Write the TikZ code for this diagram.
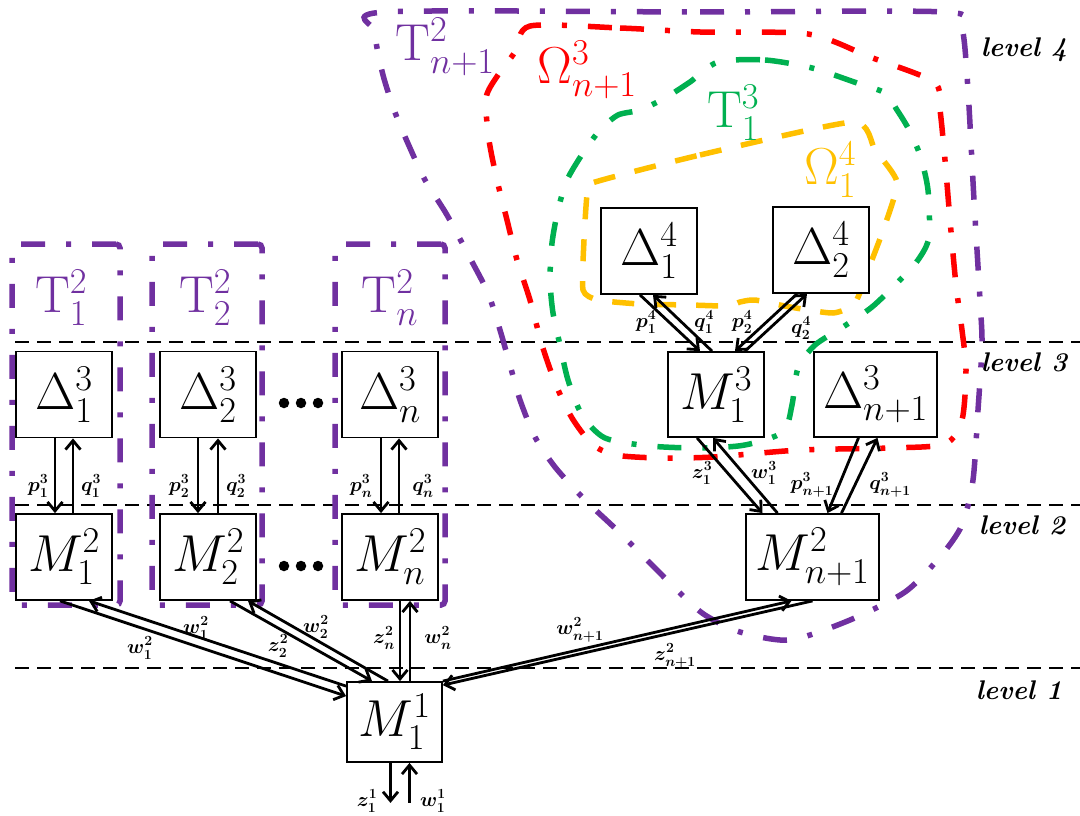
\RequirePackage{fix-cm}
\documentclass[tikz,border=0pt]{standalone}
\usetikzlibrary{arrows.meta,calc}
\definecolor{tpurple}{RGB}{112,48,160}
\definecolor{tred}{RGB}{255,0,0}
\definecolor{tgreen}{RGB}{0,176,80}
\definecolor{tyellow}{RGB}{255,192,0}
\newcommand\bigfnt{\fontsize{52}{58}\selectfont}
\newcommand\smallfnt{\fontsize{20}{22}\selectfont\boldmath}
\newcommand\levfnt{\fontsize{27}{30}\selectfont\bfseries\itshape}
\begin{document}
\begin{tikzpicture}[x=1pt,y=-1pt,
  box/.style={draw,line width=1.8pt,fill=white,minimum width=96pt,minimum height=86pt,inner sep=0pt,font=\bigfnt},
  arr/.style={line width=2.8pt,-{Straight Barb[length=9pt,width=15pt,line width=2.8pt]}},
  lab/.style={font=\smallfnt,inner sep=0pt},
  biglab/.style={font=\bigfnt,inner sep=0pt},
  levline/.style={dash pattern=on 14pt off 8pt,line width=2.6pt},
  levlab/.style={font=\levfnt,inner sep=0pt},
  dashdot/.style={line width=5.5pt,dash pattern=on 24pt off 21pt on 5pt off 21pt},
  ydash/.style={line width=5.5pt,dash pattern=on 22pt off 20pt},
  tbox/.style={draw=tpurple,dashdot,rounded corners=4pt},
  dotc/.style={circle,fill=black,inner sep=0pt,minimum size=10.5pt}
]
\useasboundingbox (0,0) rectangle (1080,816);

% level lines
\coordinate (l3w) at (15,342); \coordinate (l3e) at (1080,342);
\coordinate (l2w) at (15,505); \coordinate (l2e) at (1080,505);
\coordinate (l1w) at (15,668); \coordinate (l1e) at (1080,668);
\draw[levline] (l3w) -- (l3e);
\draw[levline] (l2w) -- (l2e);
\draw[levline] (l1w) -- (l1e);
\node[levlab] (lev4) at (1024,50) {level 4};
\node[levlab] (lev3) at (1024,362) {level 3};
\node[levlab] (lev2) at (1022,525) {level 2};
\node[levlab] (lev1) at (1019,690) {level 1};

% purple boxes T^2_i
\node[tbox,minimum width=108pt,minimum height=361pt] (T1box) at (66,424.5) {};
\node[tbox,minimum width=110pt,minimum height=361pt] (T2box) at (207,424.5) {};
\node[tbox,minimum width=110pt,minimum height=361pt] (Tnbox) at (390,424.5) {};

% big purple region
\draw[draw=tpurple,dashdot] plot[smooth cycle,tension=0.45] coordinates {
 (385,12) (700,12) (945,12) (962,28) (968,90) (974,200) (980,300) (982,345)
 (978,410) (973,480) (962,525) (940,557) (905,592) (850,620) (790,640)
 (740,632) (705,615) (680,593) (620,533) (585,500) (555,467) (535,437)
 (520,400) (510,365) (500,330) (488,293) (470,258) (447,215) (425,180)
 (410,148) (396,115) (383,75) (375,32)};
% red region
\draw[draw=tred,dashdot] plot[smooth cycle,tension=0.45] coordinates {
 (530,26) (620,28) (700,32) (808,34) (870,57) (934,82) (940,110) (945,160)
 (950,220) (956,285) (962,330) (966,370) (962,420) (945,444) (890,448)
 (800,450) (713,457) (660,458) (615,455) (592,444) (572,418) (556,385)
 (542,345) (530,300) (517,260) (507,220) (497,180) (489,140) (486,98)
 (498,75) (515,52)};
% green region
\draw[draw=tgreen,dashdot] plot[smooth cycle,tension=0.45] coordinates {
 (718,62) (765,60) (812,68) (857,83) (885,93) (897,110) (908,128) (920,155)
 (928,190) (929,237) (918,260) (897,283) (872,307) (843,327) (815,345)
 (798,368) (792,405) (783,432) (745,445) (700,448) (650,446) (605,438)
 (582,415) (568,380) (560,345) (553,313) (550,280) (552,243) (558,210)
 (567,180) (583,153) (600,130) (618,115) (640,110) (665,98) (690,82)};
% yellow region
\draw[draw=tyellow,ydash] plot[smooth cycle,tension=0.35] coordinates {
 (592,183) (700,155) (853,122) (875,150) (897,182) (885,225) (870,265)
 (855,303) (833,313) (790,307) (755,300) (740,302) (728,306) (690,305)
 (640,304) (598,300) (583,290) (584,240) (587,195)};

% region labels
\node[biglab,text=tpurple] (lT12) at (61,298) {$\mathrm{T}_1^2$};
\node[biglab,text=tpurple] (lT22) at (205,298) {$\mathrm{T}_2^2$};
\node[biglab,text=tpurple] (lTn2) at (390,298) {$\mathrm{T}_n^2$};
\node[biglab,text=tpurple] (lTnp) at (445,47) {$\mathrm{T}_{n+1}^2$};
\node[biglab,text=tred] (lOm3) at (587,70) {$\Omega_{n+1}^3$};
\node[biglab,text=tgreen] (lT13) at (733,113) {$\mathrm{T}_1^3$};
\node[biglab,text=tyellow] (lOm4) at (830,170) {$\Omega_1^4$};

% boxes
\node[box] (D13) at (64,394.5) {$\Delta_1^3$};
\node[box] (D23) at (208,394.5) {$\Delta_2^3$};
\node[box] (Dn3) at (390,394.5) {$\Delta_n^3$};
\node[box] (M12) at (64,557) {$M_1^2$};
\node[box] (M22) at (208,557) {$M_2^2$};
\node[box] (Mn2) at (390,557) {$M_n^2$};
\node[box,minimum width=95pt,minimum height=80pt] (M11) at (394.5,722) {$M_1^1$};
\node[box] (D14) at (649,251) {$\Delta_1^4$};
\node[box] (D24) at (821,250) {$\Delta_2^4$};
\node[box,minimum height=85pt] (M13) at (716,394.5) {$M_1^3$};
\node[box,minimum width=123pt,minimum height=85pt] (Dnp3) at (875.5,394.5) {$\Delta_{n+1}^3$};
\node[box,minimum width=133pt] (Mnp2) at (812.5,557) {$M_{n+1}^2$};

% ellipsis dots
\node[dotc] (e1) at (284,403) {}; \node[dotc] (e2) at (301,403) {}; \node[dotc] (e3) at (318,403) {};
\node[dotc] (f1) at (284,566) {}; \node[dotc] (f2) at (301,566) {}; \node[dotc] (f3) at (318,566) {};

% level 3 -> level 2 arrows (left)
\draw[arr] ([xshift=-9pt]D13.south) -- ([xshift=-9pt]M12.north);
\draw[arr] ([xshift=9pt]M12.north) -- ([xshift=9pt]D13.south);
\node[lab] (p13) at (38,486) {$p_1^3$};
\node[lab] (q13) at (91,486) {$q_1^3$};
\draw[arr] ([xshift=-10pt]D23.south) -- ([xshift=-10pt]M22.north);
\draw[arr] ([xshift=10pt]M22.north) -- ([xshift=10pt]D23.south);
\node[lab] (p23) at (179,486) {$p_2^3$};
\node[lab] (q23) at (236,486) {$q_2^3$};
\draw[arr] ([xshift=-9pt]Dn3.south) -- ([xshift=-9pt]Mn2.north);
\draw[arr] ([xshift=9pt]Mn2.north) -- ([xshift=9pt]Dn3.south);
\node[lab] (pn3) at (361,486) {$p_n^3$};
\node[lab] (qn3) at (423,486) {$q_n^3$};

% level 2 -> level 1
\draw[arr] ([xshift=-4pt]M12.south) -- ([yshift=-15pt]M11.north west);
\draw[arr] ([yshift=-5pt]M11.north west) -- ([xshift=25pt]M12.south);
\node[lab] (w12a) at (140,648) {$w_1^2$};
\node[lab] (w12b) at (196,628) {$w_1^2$};
\draw[arr] ([xshift=22pt]M22.south) -- ([xshift=-22.5pt]M11.north);
\draw[arr] ([xshift=-6.5pt]M11.north) -- ([xshift=40pt]M22.south);
\node[lab] (z22) at (278,646) {$z_2^2$};
\node[lab] (w22) at (316,627) {$w_2^2$};
\draw[arr] ([xshift=10pt]Mn2.south) -- ([xshift=5.5pt]M11.north);
\draw[arr] ([xshift=15.5pt]M11.north) -- ([xshift=20pt]Mn2.south);
\node[lab] (zn2) at (384,638) {$z_n^2$};
\node[lab] (wn2) at (438,638) {$w_n^2$};
\draw[arr] (M11.north east) -- ([xshift=-21pt]Mnp2.south);
\draw[arr] ([xshift=0pt]Mnp2.south) -- ([yshift=-4pt]M11.north east);
\node[lab] (wnp2) at (580,630) {$w_{n+1}^2$};
\node[lab] (znp2) at (675,656) {$z_{n+1}^2$};
\draw[arr] ([xshift=-4pt]M11.south) -- ([xshift=-4pt,yshift=-40pt]M11.south);
\draw[arr] ([xshift=15pt,yshift=-40pt]M11.south) -- ([xshift=15pt]M11.south);
\node[lab] (z11) at (367,801) {$z_1^1$};
\node[lab] (w11) at (433,801) {$w_1^1$};

% level 4 -> level 3
\draw[arr] ([xshift=-9pt]D14.south) -- ([xshift=-16pt]M13.north);
\draw[arr] ([xshift=-4pt]M13.north) -- ([xshift=4pt]D14.south);
\node[lab] (p14) at (646,322) {$p_1^4$};
\node[lab] (q14) at (704,322) {$q_1^4$};
\draw[arr] ([xshift=-24pt]D24.south) -- ([xshift=19pt]M13.north);
\draw[arr] ([xshift=29pt]M13.north) -- ([xshift=-14pt]D24.south);
\node[lab] (p24) at (742,322) {$p_2^4$};
\node[lab] (q24) at (801,328) {$q_2^4$};

% level 3 -> level 2 (right)
\draw[arr] ([xshift=-19pt]M13.south) -- ([xshift=-50pt]Mnp2.north);
\draw[arr] ([xshift=-35pt]Mnp2.north) -- ([xshift=-3pt]M13.south);
\node[lab] (z13) at (702,473) {$z_1^3$};
\node[lab] (w13) at (764,473) {$w_1^3$};
\draw[arr] ([xshift=-17pt]Dnp3.south) -- ([xshift=15pt]Mnp2.north);
\draw[arr] ([xshift=29pt]Mnp2.north) -- ([xshift=2pt]Dnp3.south);
\node[lab] (pnp3) at (812,485) {$p_{n+1}^3$};
\node[lab] (qnp3) at (890,485) {$q_{n+1}^3$};
\end{tikzpicture}
\end{document}
